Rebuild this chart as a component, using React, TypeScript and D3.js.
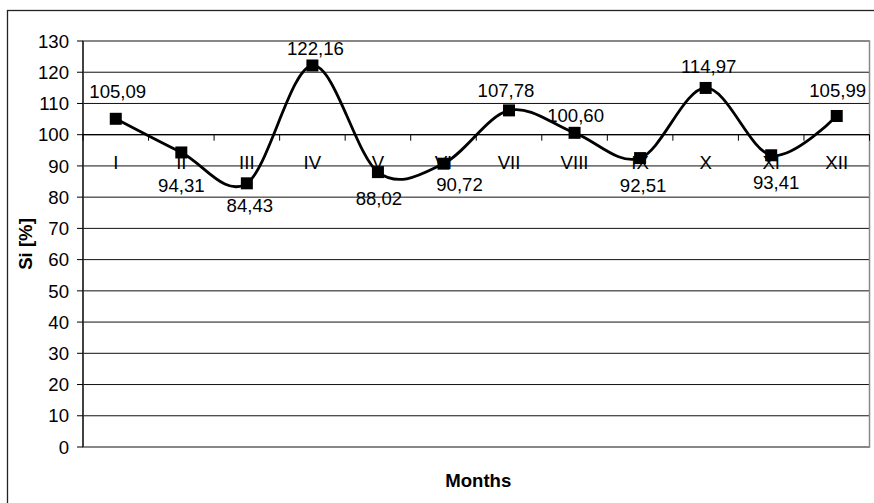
import React from "react";
import * as d3 from "d3";

const categories = ["I", "II", "III", "IV", "V", "VI", "VII", "VIII", "IX", "X", "XI", "XII"];
const values = [105.09, 94.31, 84.43, 122.16, 88.02, 90.72, 107.78, 100.6, 92.51, 114.97, 93.41, 105.99];
const yTicks = [0, 10, 20, 30, 40, 50, 60, 70, 80, 90, 100, 110, 120, 130];
// label offsets (dx, dy) relative to each point, in px
const labelDx = [2, 0, 3, 3, 1, 16, -3, 1, 3, 3, 5, 1];
const labelDy = [-27, 33, 22, -17, 26, 21, -20, -18, 27, -22, 27, -26];

const W = 874;
const H = 503;
const left = 83;
const right = 869.5;
const top = 41;
const bottom = 447;
const font = "'Liberation Sans', Arial, sans-serif";
const fs = 18.6;

export default function App() {
  const x = d3.scaleBand<string>().domain(categories).range([left, right]).padding(0);
  const y = d3.scaleLinear().domain([0, 130]).range([bottom, top]);
  const cx = (i: number) => (x(categories[i]) as number) + x.bandwidth() / 2;
  const pts: [number, number][] = values.map((v, i) => [cx(i), y(v)]);
  const line = d3.line().curve(d3.curveCardinal.tension(0))(pts) as string;
  const fmt = (v: number) => v.toFixed(2).replace(".", ",");
  const axisY = y(100);
  const boundaries = categories.map((c) => x(c) as number).concat([right]);

  return (
    <svg width={W} height={H} style={{ position: "absolute", left: 0, top: 0, background: "#fff" }} fontFamily={font}>
      <rect x={7.5} y={10.5} width={1000} height={600} fill="#fff" stroke="#222" strokeWidth={1.3} />
      {/* gridlines */}
      {yTicks.map((t) => (
        <line key={"g" + t} x1={left} x2={right} y1={y(t)} y2={y(t)} stroke="#111" strokeWidth={1} />
      ))}
      {/* plot border */}
      <rect x={left} y={top} width={right - left} height={bottom - top} fill="none" stroke="#888" strokeWidth={1.5} />
      {/* y axis */}
      <line x1={left} x2={left} y1={top} y2={bottom} stroke="#000" strokeWidth={1.2} />
      {yTicks.map((t) => (
        <g key={"t" + t}>
          <line x1={left - 6} x2={left} y1={y(t)} y2={y(t)} stroke="#000" strokeWidth={1} />
          <text x={69} y={y(t)} dy="0.36em" textAnchor="end" fontSize={fs} fill="#000">
            {t}
          </text>
        </g>
      ))}
      {/* category axis at 100 */}
      <line x1={left} x2={right} y1={axisY} y2={axisY} stroke="#000" strokeWidth={1.2} />
      {boundaries.map((b, i) => (
        <line key={"ct" + i} x1={b} x2={b} y1={axisY} y2={axisY + 6} stroke="#000" strokeWidth={1} />
      ))}
      {categories.map((c, i) => (
        <text key={"c" + c} x={cx(i)} y={axisY + 28} dy="0.36em" textAnchor="middle" fontSize={fs} fill="#000">
          {c}
        </text>
      ))}
      {/* series */}
      <path d={line} fill="none" stroke="#000" strokeWidth={2.8} />
      {pts.map((p, i) => (
        <rect key={"m" + i} x={p[0] - 6} y={p[1] - 6} width={12} height={12} fill="#000" />
      ))}
      {values.map((v, i) => (
        <text key={"l" + i} x={pts[i][0] + labelDx[i]} y={pts[i][1] + labelDy[i]} dy="0.36em" textAnchor="middle" fontSize={fs} fill="#000">
          {fmt(v)}
        </text>
      ))}
      {/* titles */}
      <text transform={`translate(25, ${(top + bottom) / 2}) rotate(-90)`} dy="0.36em" textAnchor="middle" fontSize={fs} fontWeight="bold" fill="#000">
        Si [%]
      </text>
      <text x={(left + right) / 2 + 2} y={480} dy="0.36em" textAnchor="middle" fontSize={fs} fontWeight="bold" fill="#000">
        Months
      </text>
    </svg>
  );
}
